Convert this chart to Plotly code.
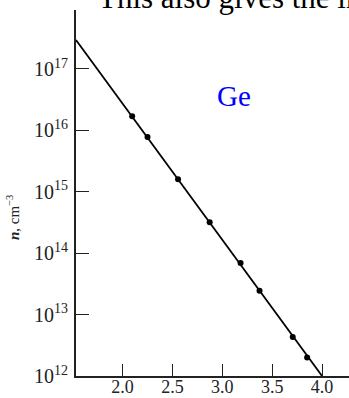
import plotly.graph_objects as go

# Fitted straight line (endpoints of the fit on the log scale)
line_x = [1.533, 4.0]
line_n = [2.95e17, 1.0e12]

# Measured points
pts_x = [2.096, 2.25, 2.556, 2.873, 3.183, 3.373, 3.706, 3.85]
pts_n = [1.7e16, 7.8e15, 1.6e15, 3.2e14, 6.9e13, 2.45e13, 4.3e12, 2.0e12]

x_ticks = [2.0, 2.5, 3.0, 3.5, 4.0]

serif = "Liberation Serif"

fig = go.Figure()
fig.add_trace(go.Scatter(x=line_x, y=line_n, mode="lines",
                         line=dict(color="black", width=1.8),
                         showlegend=False, hoverinfo="skip"))
fig.add_trace(go.Scatter(x=pts_x, y=pts_n, mode="markers",
                         marker=dict(color="black", size=6, symbol="circle"),
                         showlegend=False))

fig.update_layout(
    width=349, height=398,
    margin=dict(l=76, r=0, t=10, b=22, autoexpand=False),
    paper_bgcolor="white", plot_bgcolor="white",
    font=dict(family=serif, color="black"),
    xaxis=dict(
        range=[1.533, 4.27], showgrid=False, zeroline=False,
        showline=True, linecolor="#222", linewidth=1.5,
        tickvals=x_ticks, tickformat=".1f", automargin=False,
        ticks="inside", ticklen=12, tickwidth=1, tickcolor="#222",
        tickfont=dict(family=serif, size=18, color="#222"),
        ticklabelstandoff=-6,
    ),
    yaxis=dict(
        type="log", range=[12, 17.96], showgrid=False, zeroline=False,
        showline=True, linecolor="#222", linewidth=1.5, automargin=False,
        dtick=1, exponentformat="power", showexponent="all",
        ticks="inside", ticklen=13, tickwidth=1, tickcolor="#222",
        tickfont=dict(family=serif, size=16, color="#222"),
        ticklabelstandoff=3,
    ),
)

# Axis title for the concentration
fig.add_annotation(xref="paper", yref="paper",
                   x=(13 - 76) / 273, y=1 - (218 - 10) / 366,
                   text="<b><i>n</i></b>, cm<sup>−3</sup>", textangle=-90,
                   showarrow=False, font=dict(family=serif, size=15, color="#222"),
                   xanchor="center", yanchor="middle")

# Material label
fig.add_annotation(xref="paper", yref="paper",
                   x=(234 - 76) / 273, y=1 - (96 - 10) / 366,
                   text="Ge", showarrow=False,
                   font=dict(family=serif, size=29, color="#0000ff"),
                   xanchor="center", yanchor="middle")

# Running text above the chart
fig.add_annotation(xref="paper", yref="paper",
                   x=(96 - 76) / 273, y=1 - (-3 - 10) / 366,
                   text="This also gives the in", showarrow=False,
                   font=dict(family=serif, size=31, color="black"),
                   xanchor="left", yanchor="middle")

fig.write_html("out.html")
